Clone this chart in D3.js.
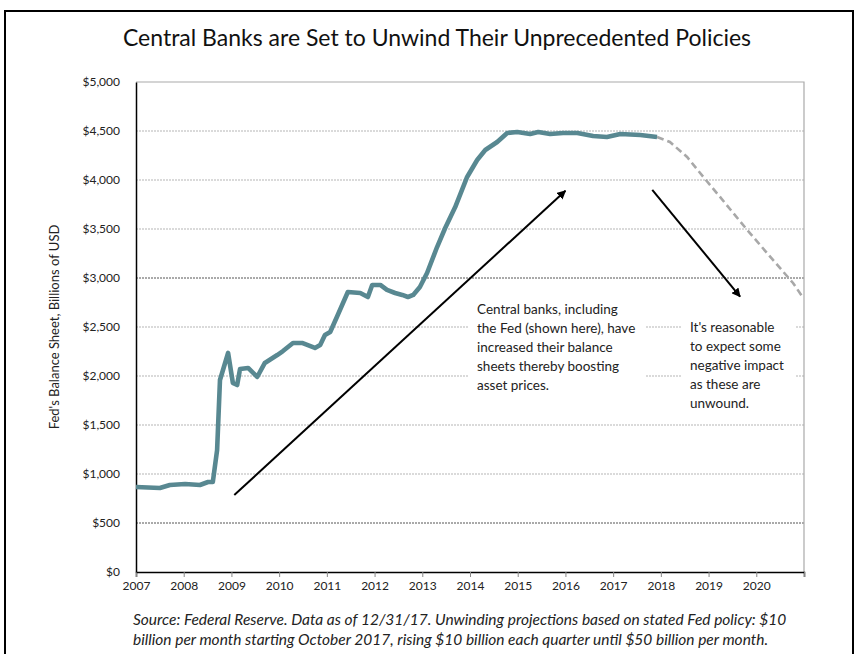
<!DOCTYPE html>
<html lang="en">
<head>
<meta charset="UTF-8"/>
<title>Central Banks are Set to Unwind Their Unprecedented Policies</title>
<script src="https://d3js.org/d3.v7.min.js"></script>
<style>
  body { margin: 0; background: #fff; }
  svg { display: block; font-family: Lato, "Noto Sans", sans-serif; }
</style>
</head>
<body>
<script>
  // Fed balance sheet, billions of USD
  var actualYears = [2007.0, 2007.5, 2007.71, 2008.03, 2008.34, 2008.51, 2008.61, 2008.70, 2008.76, 2008.93,
                     2009.03, 2009.12, 2009.18, 2009.35, 2009.54, 2009.70, 2009.96, 2010.08, 2010.29, 2010.48,
                     2010.75, 2010.86, 2010.96, 2011.07, 2011.21, 2011.44, 2011.70, 2011.86, 2011.95, 2012.12,
                     2012.26, 2012.43, 2012.58, 2012.70, 2012.81, 2012.95, 2013.10, 2013.31, 2013.48, 2013.69,
                     2013.94, 2014.15, 2014.32, 2014.57, 2014.78, 2014.99, 2015.26, 2015.43, 2015.68, 2015.95,
                     2016.25, 2016.58, 2016.87, 2017.15, 2017.57, 2017.92];
  var actualValues = [867, 857, 888, 898, 888, 918, 918, 1245, 1959, 2235,
                      1929, 1908, 2071, 2082, 1990, 2133, 2214, 2255, 2337, 2337,
                      2286, 2316, 2418, 2449, 2602, 2857, 2847, 2806, 2929, 2929,
                      2878, 2847, 2827, 2806, 2827, 2908, 3051, 3316, 3510, 3724,
                      4031, 4204, 4306, 4388, 4480, 4490, 4469, 4490, 4469, 4480,
                      4480, 4449, 4439, 4469, 4459, 4439];

  // projected unwinding
  var projYears  = [2017.92, 2018.19, 2018.55, 2018.89, 2019.24, 2019.81, 2020.35, 2020.77, 2020.98];
  var projValues = [4439, 4388, 4235, 4031, 3827, 3490, 3184, 2949, 2800];

  var yearTicks = [2007, 2008, 2009, 2010, 2011, 2012, 2013, 2014, 2015, 2016, 2017, 2018, 2019, 2020, 2021];
  var valueTicks = [0, 500, 1000, 1500, 2000, 2500, 3000, 3500, 4000, 4500, 5000];

  var note1 = ["Central banks, including", "the Fed (shown here), have", "increased their balance",
               "sheets thereby boosting", "asset prices."];
  var note2 = ["It's reasonable", "to expect some", "negative impact", "as these are", "unwound."];

  var w = 858, h = 654;
  var plotL = 136, plotR = 804, plotT = 82, plotB = 572;

  var xScale = d3.scaleLinear().domain([2007, 2021]).range([plotL, plotR]);
  var yScale = d3.scaleLinear().domain([0, 5000]).range([plotB, plotT]);

  var svg = d3.select("body").append("svg")
              .attr("width", w)
              .attr("height", h);

  // frame around everything
  svg.append("rect")
     .attr("x", 5).attr("y", 11)
     .attr("width", 848).attr("height", 660)
     .attr("fill", "none")
     .attr("stroke", "#000")
     .attr("stroke-width", 2);

  svg.append("text")
     .attr("x", 437).attr("y", 46)
     .attr("text-anchor", "middle")
     .attr("font-size", 23)
     .attr("fill", "#111")
     .text("Central Banks are Set to Unwind Their Unprecedented Policies");

  // gridlines
  svg.append("g").selectAll("line")
     .data(valueTicks.filter(function(d) { return d > 0 && d < 5000; }))
     .enter().append("line")
     .attr("x1", plotL).attr("x2", plotR)
     .attr("y1", function(d) { return yScale(d); })
     .attr("y2", function(d) { return yScale(d); })
     .attr("stroke", function(d) { return (d == 3000 || d == 500) ? "#555" : "#b5b5b5"; })
     .attr("stroke-width", 1)
     .attr("stroke-dasharray", "2,1");

  // top and right border of plot
  svg.append("path")
     .attr("d", "M" + plotL + "," + plotT + "H" + plotR + "V" + plotB)
     .attr("fill", "none")
     .attr("stroke", "#aaa")
     .attr("stroke-width", 1.2);

  // axes
  var xAxis = d3.axisBottom(xScale)
                .tickValues(yearTicks)
                .tickFormat(function(d) { return d < 2021 ? d : ""; })
                .tickSize(5);
  var gx = svg.append("g")
              .attr("transform", "translate(0," + plotB + ")")
              .call(xAxis);
  gx.select(".domain").attr("stroke", "#000").attr("stroke-width", 1.5);
  gx.selectAll(".tick line").attr("stroke", "#888");
  gx.selectAll("text").attr("font-family", "Lato").attr("font-size", 12).attr("fill", "#222").attr("dy", "0.85em");

  var yAxis = d3.axisLeft(yScale)
                .tickValues(valueTicks)
                .tickFormat(function(d) { return "$" + d3.format(",")(d); })
                .tickSize(0)
                .tickPadding(16);
  var gy = svg.append("g")
              .attr("transform", "translate(" + plotL + ",0)")
              .call(yAxis);
  gy.select(".domain").attr("stroke", "#000").attr("stroke-width", 1.5);
  gy.selectAll("text").attr("font-family", "Lato").attr("font-size", 12).attr("fill", "#222");

  svg.append("text")
     .attr("transform", "translate(59," + ((plotT + plotB) / 2) + ") rotate(-90)")
     .attr("text-anchor", "middle")
     .attr("font-size", 13)
     .attr("fill", "#222")
     .text("Fed's Balance Sheet, Billions of USD");

  // series lines
  var line = d3.line()
               .x(function(d) { return xScale(d[0]); })
               .y(function(d) { return yScale(d[1]); });

  svg.append("path")
     .datum(d3.zip(projYears, projValues))
     .attr("d", line)
     .attr("fill", "none")
     .attr("stroke", "#a8a8a8")
     .attr("stroke-width", 2.6)
     .attr("stroke-dasharray", "7,4");

  svg.append("path")
     .datum(d3.zip(actualYears, actualValues))
     .attr("d", line)
     .attr("fill", "none")
     .attr("stroke", "#588891")
     .attr("stroke-width", 4.6)
     .attr("stroke-linejoin", "round");

  // arrows
  svg.append("defs").append("marker")
     .attr("id", "head")
     .attr("viewBox", "0 0 10 10")
     .attr("refX", 9).attr("refY", 5)
     .attr("markerWidth", 4.5).attr("markerHeight", 4.5)
     .attr("orient", "auto")
     .append("path")
     .attr("d", "M0,0L10,5L0,10z")
     .attr("fill", "#000");

  svg.append("line")
     .attr("x1", xScale(2009.06)).attr("y1", yScale(785))
     .attr("x2", xScale(2016.0)).attr("y2", yScale(3890))
     .attr("stroke", "#000").attr("stroke-width", 2)
     .attr("marker-end", "url(#head)");

  svg.append("line")
     .attr("x1", xScale(2017.82)).attr("y1", yScale(3900))
     .attr("x2", xScale(2019.66)).attr("y2", yScale(2810))
     .attr("stroke", "#000").attr("stroke-width", 2)
     .attr("marker-end", "url(#head)");

  // annotation boxes
  function note(lines, x, y, bw, bh) {
    svg.append("rect")
       .attr("x", x - 8).attr("y", y - 16)
       .attr("width", bw).attr("height", bh)
       .attr("fill", "#fff");
    svg.append("text")
       .attr("font-size", 13.5)
       .attr("fill", "#222")
       .selectAll("tspan")
       .data(lines)
       .enter().append("tspan")
       .attr("x", x)
       .attr("y", function(d, i) { return y + i * 19; })
       .text(function(d) { return d; });
  }
  note(note1, 477, 314, 176, 100);
  note(note2, 690, 332, 114, 100);

  // source footnote
  var source = ["Source: Federal Reserve. Data as of 12/31/17. Unwinding projections based on stated Fed policy: $10",
                "billion per month starting October 2017, rising $10 billion each quarter until $50 billion per month."];
  svg.append("g").selectAll("text")
     .data(source)
     .enter().append("text")
     .attr("x", 133)
     .attr("y", function(d, i) { return 625 + i * 20; })
     .attr("font-size", 15.5)
     .attr("font-style", "italic")
     .attr("fill", "#222")
     .text(function(d) { return d; });
</script>
</body>
</html>
